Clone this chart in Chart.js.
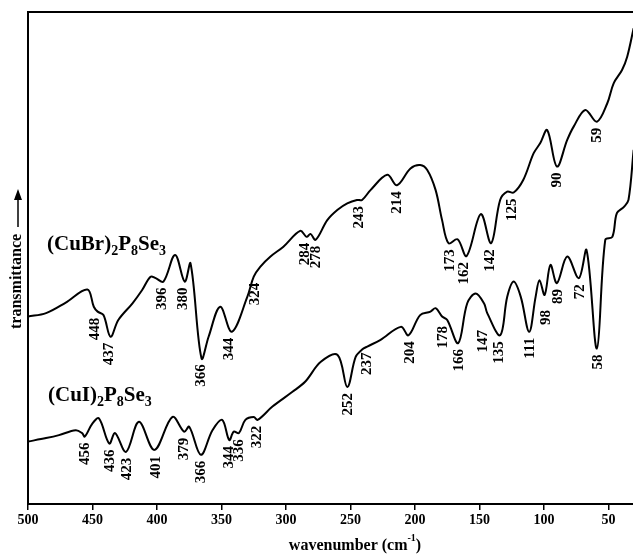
<!DOCTYPE html>
<html>
<head>
<meta charset="utf-8">
<script src="https://cdn.jsdelivr.net/npm/chart.js@4.4.1/dist/chart.umd.min.js"></script>
<style>
  html, body { margin: 0; padding: 0; background: #fff; }
</style>
</head>
<body>
<canvas id="irChart" width="633" height="554"></canvas>
<script>
// far-IR spectra, transmittance in arbitrary units (0 = bottom of frame, 100 = top)
const cuBrWavenumbers = [500, 486, 471, 454, 449, 446, 441.5, 436, 430, 419, 411.5, 405, 401, 395, 386, 378.5, 374, 365.5, 360, 351,
  342, 330, 325, 320, 312, 302, 289, 284, 281, 277, 268, 260, 252.5, 245, 241, 234.5, 221.5, 214, 203.5, 196,
  190.5, 184, 179, 174, 167, 160, 149, 141, 134, 128.5, 123.5, 116, 108, 103, 97.5, 90, 82, 77, 68, 59,
  51, 46, 39.5, 35.5, 30.5];
const cuBrTransmittance = [38.1, 38.8, 40.9, 43.6, 40.1, 39.1, 38.4, 34.0, 37.4, 40.8, 43.5, 46.2, 45.9, 45.2, 50.6, 45.2, 48.9, 29.6, 34.0, 40.1,
  35.0, 42.1, 46.2, 48.2, 50.3, 52.3, 55.5, 54.3, 54.9, 53.7, 57.7, 59.8, 61.1, 61.8, 61.8, 63.8, 66.9, 64.8, 68.2, 68.9,
  67.9, 63.8, 57.7, 53.0, 53.8, 50.4, 58.9, 53.0, 61.8, 63.5, 63.3, 65.9, 71.3, 73.3, 76.0, 68.6, 74.0, 76.7, 80.1, 77.7,
  81.4, 85.5, 88.2, 90.9, 96.7];
const cuBrPeaks = [448, 437, 396, 380, 366, 344, 324, 284, 278, 243, 214, 173, 162, 142, 125, 90, 59];

const cuIWavenumbers = [500, 486, 476, 463, 458, 456, 450, 445, 437, 432.5, 424, 414, 402, 388, 379, 375, 366, 357, 349.5, 344,
  340.5, 336.5, 331.5, 325, 322, 310.5, 295, 285, 273, 260, 252.5, 246, 241, 237, 227, 211, 205, 196, 188, 184,
  179, 175, 166.5, 159.5, 153, 146.5, 144, 134, 128.5, 123.5, 118, 111.5, 106.5, 103.5, 99.5, 95, 90, 82, 73, 67,
  59, 52.5, 47, 43.5, 38, 34.5, 30.5];
const cuITransmittance = [12.7, 13.4, 14.0, 15.0, 14.4, 13.7, 16.4, 17.4, 12.3, 14.4, 10.6, 16.7, 11.0, 17.7, 14.7, 15.7, 10.0, 15.0, 17.1, 13.0,
  14.7, 14.4, 17.1, 17.7, 17.1, 19.8, 22.8, 24.9, 28.9, 30.3, 23.8, 29.9, 31.4, 32.0, 33.3, 36.0, 34.3, 38.4, 39.1, 39.8,
  38.1, 37.4, 32.7, 40.8, 42.8, 40.8, 38.8, 34.3, 42.1, 45.2, 42.1, 35.0, 42.1, 45.5, 42.5, 48.6, 44.9, 50.3, 45.9, 51.6,
  31.6, 53.7, 54.3, 59.1, 60.4, 61.8, 72.0];
const cuIPeaks = [456, 436, 423, 401, 379, 366, 344, 336, 322, 252, 237, 204, 178, 166, 147, 135, 111, 98, 89, 72, 58];

const xTicks = [500, 450, 400, 350, 300, 250, 200, 150, 100, 50];

const serif = "'Liberation Serif', 'Times New Roman', serif";

// labels that sit lower than the usual gap under the curve, or a little aside
const extraGap = { cuI: { 147: 11, 98: 9 } };
const sideShift = { cuBr: { 284: -2, 278: 2 } };

function toPoints(xs, ys) {
  return xs.map((w, i) => ({ x: w, y: ys[i] }));
}

// lowest transmittance at (or within 3 cm-1 of) a labelled wavenumber
function valueNear(pts, w) {
  let best = Infinity;
  for (let i = 0; i < pts.length - 1; i++) {
    const a = pts[i], b = pts[i + 1];
    if (a.x >= w && b.x <= w) {
      const f = (a.x - w) / (a.x - b.x);
      best = Math.min(best, a.y + (b.y - a.y) * f);
    }
  }
  pts.forEach(p => { if (Math.abs(p.x - w) <= 3) best = Math.min(best, p.y); });
  return best;
}

function drawFormula(ctx, parts, x, y) {
  parts.forEach(([s, sub]) => {
    ctx.font = sub ? `bold 14px ${serif}` : `bold 21px ${serif}`;
    ctx.fillText(s, x, sub ? y + 5 : y);
    x += ctx.measureText(s).width;
  });
}

const decorPlugin = {
  id: 'decor',
  afterDatasetsDraw(chart) {
    const { ctx, chartArea: a, scales: { x, y } } = chart;
    ctx.save();
    ctx.strokeStyle = '#000';
    ctx.fillStyle = '#000';

    // top frame line
    ctx.lineWidth = 2;
    ctx.beginPath();
    ctx.moveTo(a.left, a.top);
    ctx.lineTo(a.right, a.top);
    ctx.stroke();

    // peak labels, rotated, hanging under the curve
    ctx.font = `bold 15px ${serif}`;
    chart.data.datasets.forEach(ds => {
      const extra = extraGap[ds.key] || {};
      const shift = sideShift[ds.key] || {};
      ds.peaks.forEach(w => {
        const px = x.getPixelForValue(w) + (shift[w] || 0);
        const py = y.getPixelForValue(valueNear(ds.data, w)) + 6 + (extra[w] || 0);
        ctx.save();
        ctx.translate(px, py);
        ctx.rotate(-Math.PI / 2);
        ctx.textAlign = 'right';
        ctx.textBaseline = 'middle';
        ctx.fillText(String(w), 0, 0);
        ctx.restore();
      });
    });

    // compound names
    ctx.textAlign = 'left';
    ctx.textBaseline = 'alphabetic';
    drawFormula(ctx, [['(CuBr)'], ['2', 1], ['P'], ['8', 1], ['Se'], ['3', 1]], 47, 250);
    drawFormula(ctx, [['(CuI)'], ['2', 1], ['P'], ['8', 1], ['Se'], ['3', 1]], 48, 401);

    // x axis title with superscript
    ctx.font = `bold 16px ${serif}`;
    const main = 'wavenumber (cm';
    const wMain = ctx.measureText(main).width;
    ctx.font = `bold 10px ${serif}`;
    const wSup = ctx.measureText('-1').width;
    ctx.font = `bold 16px ${serif}`;
    const wEnd = ctx.measureText(')').width;
    let tx = 355 - (wMain + wSup + wEnd) / 2;
    ctx.fillText(main, tx, 550);
    tx += wMain;
    ctx.font = `bold 10px ${serif}`;
    ctx.fillText('-1', tx, 541);
    tx += wSup;
    ctx.font = `bold 16px ${serif}`;
    ctx.fillText(')', tx, 550);

    // y axis title with arrow
    ctx.save();
    ctx.translate(17, 329);
    ctx.rotate(-Math.PI / 2);
    ctx.font = `bold 16px ${serif}`;
    ctx.textBaseline = 'middle';
    ctx.fillText('transmittance', 0, 0);
    const tw = ctx.measureText('transmittance').width;
    ctx.lineWidth = 1.5;
    ctx.beginPath();
    ctx.moveTo(tw + 7, 1);
    ctx.lineTo(tw + 38, 1);
    ctx.stroke();
    ctx.beginPath();
    ctx.moveTo(tw + 45, 1);
    ctx.lineTo(tw + 34, -3);
    ctx.lineTo(tw + 34, 5);
    ctx.closePath();
    ctx.fill();
    ctx.restore();

    ctx.restore();
  }
};

new Chart(document.getElementById('irChart'), {
  type: 'line',
  data: {
    datasets: [
      { key: 'cuBr', label: '(CuBr)2P8Se3', data: toPoints(cuBrWavenumbers, cuBrTransmittance), peaks: cuBrPeaks },
      { key: 'cuI', label: '(CuI)2P8Se3', data: toPoints(cuIWavenumbers, cuITransmittance), peaks: cuIPeaks }
    ]
  },
  options: {
    responsive: false,
    animation: false,
    events: [],
    layout: { padding: { top: 12, right: 0, bottom: 0, left: 0 } },
    elements: {
      line: { borderColor: '#000', borderWidth: 2, tension: 0.35, fill: false },
      point: { radius: 0 }
    },
    plugins: { legend: { display: false }, tooltip: { enabled: false } },
    scales: {
      x: {
        type: 'linear',
        reverse: true,
        min: 31,
        max: 500,
        afterBuildTicks: s => { s.ticks = xTicks.map(v => ({ value: v })); },
        afterFit: s => { s.height = 50; },
        grid: { display: true, drawOnChartArea: false, drawTicks: true, tickLength: 6, color: '#000', lineWidth: 1.5 },
        border: { display: true, color: '#000', width: 2 },
        ticks: { color: '#000', padding: 2, maxRotation: 0, autoSkip: false, font: { family: serif, size: 14, weight: 'bold' } }
      },
      y: {
        min: 0,
        max: 100,
        afterFit: s => { s.width = 28; },
        ticks: { display: false },
        grid: { display: false },
        border: { display: true, color: '#000', width: 2 }
      }
    }
  },
  plugins: [decorPlugin]
});
</script>
</body>
</html>
